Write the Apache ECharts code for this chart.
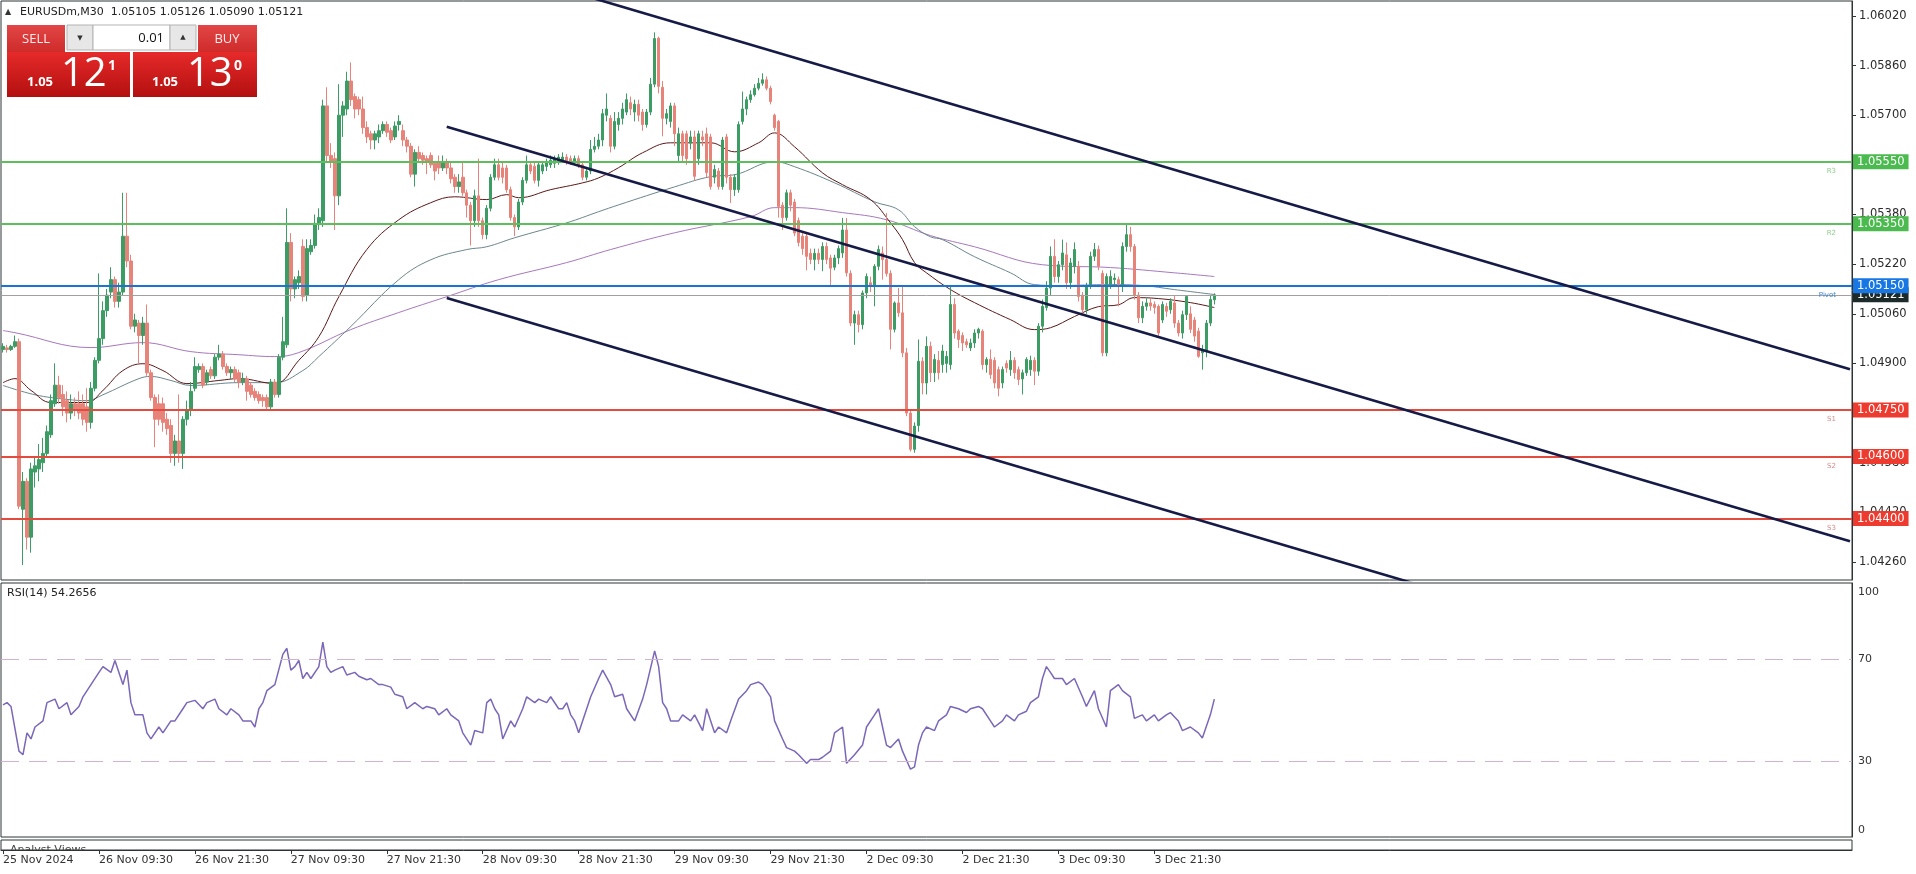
<!DOCTYPE html>
<html><head><meta charset="utf-8">
<script src="https://cdn.jsdelivr.net/npm/echarts@6/dist/echarts.min.js"></script>
<style>html,body{margin:0;padding:0;background:#fff;}#c{width:1916px;height:874px;}</style>
</head><body><div id="c"></div>
<script>
// ---------- DATA ----------
const tickLabels = ['25 Nov 2024','26 Nov 09:30','26 Nov 21:30','27 Nov 09:30','27 Nov 21:30','28 Nov 09:30','28 Nov 21:30','29 Nov 09:30','29 Nov 21:30','2 Dec 09:30','2 Dec 21:30','3 Dec 09:30','3 Dec 21:30'];
const barsPerTick = 24;
const slotCount = 463; // bar slots across the chart width (candles + empty right side)
const priceTicks = [1.04260,1.04420,1.04580,1.04740,1.04900,1.05060,1.05220,1.05380,1.05540,1.05700,1.05860,1.06020];
const rsiTicks = [0,30,70,100];
const rsiLevels = [70,30];
const quote = {symbol:'EURUSDm,M30', open:1.05105, high:1.05126, low:1.05090, close:1.05121};
const rsiLast = 54.2656;
const levelNames = ['R3','R2','Pivot','S1','S2','S3'];
const levelValues = [1.05550,1.05350,1.05150,1.04750,1.04600,1.04400];
const lastPrice = 1.05121;
const channelUpper = [[145,1.06087],[462,1.04881]];
const channelMid = [[111,1.05663],[462,1.04327]];
const channelLow = [[111,1.05111],[462,1.03776]];
// candles: [open, close, low, high]
const candles = [
[1.04945,1.04955,1.04935,1.04965],[1.04950,1.04945,1.04935,1.04960],[1.04945,1.04955,1.04940,1.04960],[1.04955,1.04970,1.04950,1.04990],
[1.04970,1.04440,1.04430,1.04980],[1.04430,1.04520,1.04250,1.04550],[1.04520,1.04340,1.04300,1.04530],[1.04340,1.04560,1.04290,1.04580],
[1.04550,1.04570,1.04500,1.04600],[1.04560,1.04590,1.04520,1.04640],[1.04580,1.04610,1.04550,1.04660],[1.04610,1.04680,1.04600,1.04700],
[1.04670,1.04780,1.04660,1.04800],[1.04770,1.04830,1.04760,1.04900],[1.04830,1.04790,1.04770,1.04860],[1.04800,1.04760,1.04730,1.04830],
[1.04780,1.04740,1.04710,1.04810],[1.04740,1.04770,1.04720,1.04800],[1.04770,1.04750,1.04730,1.04790],[1.04770,1.04740,1.04720,1.04810],
[1.04770,1.04720,1.04700,1.04800],[1.04760,1.04710,1.04680,1.04820],[1.04710,1.04820,1.04690,1.04840],[1.04820,1.04910,1.04810,1.04920],
[1.04910,1.04980,1.04900,1.05190],[1.04980,1.05070,1.04960,1.05100],[1.05070,1.05120,1.05050,1.05140],[1.05130,1.05170,1.05110,1.05210],
[1.05170,1.05100,1.05080,1.05180],[1.05100,1.05130,1.05080,1.05160],[1.05130,1.05310,1.05120,1.05450],[1.05310,1.05230,1.05210,1.05450],
[1.05230,1.05020,1.05010,1.05250],[1.05020,1.05040,1.05000,1.05060],[1.05030,1.04990,1.04900,1.05040],[1.04990,1.05030,1.04960,1.05050],
[1.05030,1.04870,1.04860,1.05090],[1.04870,1.04790,1.04780,1.04880],[1.04790,1.04720,1.04630,1.04800],[1.04770,1.04720,1.04700,1.04800],
[1.04770,1.04710,1.04680,1.04790],[1.04720,1.04690,1.04670,1.04740],[1.04700,1.04610,1.04580,1.04720],[1.04610,1.04650,1.04570,1.04670],
[1.04650,1.04610,1.04580,1.04800],[1.04610,1.04720,1.04560,1.04730],[1.04720,1.04750,1.04700,1.04780],[1.04750,1.04810,1.04730,1.04840],
[1.04820,1.04890,1.04810,1.04920],[1.04880,1.04890,1.04870,1.04900],[1.04890,1.04830,1.04820,1.04900],[1.04840,1.04870,1.04830,1.04880],
[1.04880,1.04860,1.04850,1.04890],[1.04860,1.04920,1.04850,1.04930],[1.04920,1.04930,1.04910,1.04960],[1.04930,1.04890,1.04880,1.04940],
[1.04890,1.04870,1.04860,1.04900],[1.04870,1.04880,1.04850,1.04890],[1.04880,1.04850,1.04840,1.04890],[1.04870,1.04840,1.04820,1.04880],
[1.04840,1.04850,1.04830,1.04870],[1.04850,1.04810,1.04780,1.04860],[1.04830,1.04800,1.04790,1.04840],[1.04810,1.04790,1.04780,1.04820],
[1.04800,1.04780,1.04770,1.04810],[1.04790,1.04780,1.04760,1.04800],[1.04790,1.04760,1.04750,1.04800],[1.04760,1.04840,1.04750,1.04850],
[1.04840,1.04800,1.04790,1.04850],[1.04800,1.04920,1.04790,1.04930],[1.04920,1.04970,1.04910,1.05050],[1.04960,1.05290,1.04950,1.05400],
[1.05290,1.05140,1.05100,1.05320],[1.05140,1.05170,1.05110,1.05180],[1.05160,1.05180,1.05140,1.05200],
[1.05277,1.05116,1.05100,1.05300],[1.05120,1.05270,1.05100,1.05300],[1.05260,1.05280,1.05250,1.05300],[1.05280,1.05350,1.05270,1.05380],
[1.05350,1.05370,1.05330,1.05400],[1.05360,1.05730,1.05340,1.05750],[1.05730,1.05570,1.05550,1.05790],[1.05570,1.05550,1.05530,1.05610],
[1.05560,1.05440,1.05330,1.05580],[1.05440,1.05700,1.05410,1.05800],[1.05700,1.05730,1.05630,1.05745],[1.05720,1.05810,1.05700,1.05840],
[1.05810,1.05750,1.05730,1.05870],[1.05760,1.05720,1.05690,1.05770],[1.05750,1.05720,1.05700,1.05760],[1.05720,1.05660,1.05640,1.05760],
[1.05660,1.05630,1.05610,1.05680],[1.05640,1.05620,1.05590,1.05650],[1.05620,1.05640,1.05590,1.05650],[1.05630,1.05650,1.05610,1.05670],
[1.05650,1.05670,1.05640,1.05680],[1.05670,1.05645,1.05630,1.05680],[1.05650,1.05620,1.05610,1.05660],[1.05630,1.05665,1.05620,1.05680],
[1.05670,1.05680,1.05650,1.05700],[1.05650,1.05620,1.05600,1.05670],[1.05620,1.05600,1.05580,1.05630],[1.05600,1.05510,1.05500,1.05610],
[1.05510,1.05580,1.05470,1.05590],[1.05580,1.05560,1.05550,1.05600],[1.05570,1.05555,1.05540,1.05580],[1.05560,1.05550,1.05510,1.05570],
[1.05570,1.05540,1.05530,1.05580],[1.05545,1.05520,1.05490,1.05550],[1.05550,1.05530,1.05510,1.05570],[1.05530,1.05550,1.05520,1.05570],
[1.05550,1.05530,1.05510,1.05560],[1.05530,1.05495,1.05480,1.05550],[1.05500,1.05470,1.05450,1.05510],[1.05470,1.05485,1.05450,1.05510],
[1.05500,1.05450,1.05440,1.05550],[1.05450,1.05410,1.05370,1.05460],[1.05410,1.05360,1.05280,1.05420],[1.05360,1.05440,1.05340,1.05460],
[1.05440,1.05360,1.05340,1.05560],[1.05360,1.05315,1.05300,1.05370],[1.05315,1.05400,1.05300,1.05410],[1.05400,1.05500,1.05390,1.05510],
[1.05500,1.05540,1.05490,1.05560],[1.05540,1.05500,1.05490,1.05560],[1.05530,1.05500,1.05480,1.05550],[1.05530,1.05460,1.05450,1.05540],
[1.05460,1.05370,1.05360,1.05470],[1.05370,1.05340,1.05310,1.05380],[1.05340,1.05420,1.05330,1.05430],[1.05420,1.05490,1.05410,1.05500],
[1.05490,1.05540,1.05480,1.05570],[1.05540,1.05520,1.05510,1.05550],[1.05535,1.05490,1.05480,1.05550],[1.05490,1.05540,1.05470,1.05550],
[1.05520,1.05540,1.05510,1.05550],[1.05535,1.05550,1.05520,1.05560],[1.05540,1.05555,1.05530,1.05570],[1.05545,1.05560,1.05530,1.05570],
[1.05550,1.05565,1.05540,1.05575],[1.05555,1.05565,1.05550,1.05580],[1.05565,1.05550,1.05540,1.05575],[1.05560,1.05550,1.05540,1.05570],
[1.05550,1.05560,1.05540,1.05570],[1.05560,1.05540,1.05530,1.05570],[1.05540,1.05500,1.05490,1.05550],[1.05500,1.05520,1.05490,1.05530],
[1.05520,1.05590,1.05510,1.05620],[1.05590,1.05600,1.05580,1.05630],[1.05600,1.05620,1.05590,1.05640],[1.05620,1.05705,1.05600,1.05720],
[1.05700,1.05720,1.05680,1.05770],[1.05690,1.05600,1.05580,1.05700],[1.05600,1.05680,1.05590,1.05710],[1.05670,1.05690,1.05650,1.05710],
[1.05690,1.05720,1.05670,1.05740],[1.05710,1.05750,1.05700,1.05770],[1.05740,1.05720,1.05700,1.05760],[1.05710,1.05735,1.05680,1.05750],
[1.05735,1.05700,1.05680,1.05750],[1.05710,1.05670,1.05650,1.05720],[1.05670,1.05710,1.05660,1.05720],[1.05710,1.05800,1.05700,1.05820],
[1.05800,1.05947,1.05790,1.05967],[1.05948,1.05793,1.05770,1.05953],[1.05790,1.05690,1.05632,1.05810],[1.05690,1.05705,1.05670,1.05720],
[1.05680,1.05730,1.05660,1.05740],[1.05730,1.05640,1.05600,1.05740],[1.05570,1.05640,1.05550,1.05660],[1.05640,1.05570,1.05550,1.05650],
[1.05640,1.05560,1.05540,1.05650],[1.05610,1.05630,1.05590,1.05650],[1.05630,1.05503,1.05490,1.05650],[1.05560,1.05640,1.05540,1.05650],
[1.05630,1.05620,1.05600,1.05650],[1.05640,1.05515,1.05500,1.05660],[1.05630,1.05470,1.05460,1.05640],[1.05500,1.05525,1.05480,1.05540],
[1.05520,1.05470,1.05460,1.05530],[1.05470,1.05620,1.05460,1.05630],[1.05630,1.05500,1.05480,1.05640],[1.05500,1.05460,1.05417,1.05510],
[1.05460,1.05500,1.05440,1.05510],[1.05460,1.05670,1.05450,1.05680],[1.05680,1.05720,1.05670,1.05776],[1.05720,1.05750,1.05700,1.05760],
[1.05750,1.05766,1.05740,1.05780],[1.05766,1.05787,1.05760,1.05800],[1.05787,1.05803,1.05780,1.05820],[1.05803,1.05814,1.05795,1.05835],
[1.05814,1.05787,1.05780,1.05825],[1.05787,1.05744,1.05735,1.05795],[1.05700,1.05660,1.05650,1.05705],[1.05680,1.05406,1.05370,1.05685],
[1.05410,1.05370,1.05330,1.05420],[1.05370,1.05450,1.05360,1.05460],[1.05450,1.05410,1.05390,1.05460],[1.05420,1.05320,1.05310,1.05430],
[1.05360,1.05290,1.05277,1.05370],[1.05310,1.05270,1.05250,1.05320],[1.05310,1.05245,1.05200,1.05320],[1.05255,1.05235,1.05220,1.05270],
[1.05235,1.05255,1.05200,1.05270],[1.05255,1.05235,1.05220,1.05270],[1.05235,1.05277,1.05197,1.05290],[1.05277,1.05235,1.05220,1.05290],
[1.05240,1.05207,1.05149,1.05250],[1.05210,1.05240,1.05200,1.05250],[1.05240,1.05270,1.05220,1.05280],[1.05256,1.05330,1.05240,1.05369],
[1.05330,1.05192,1.05180,1.05369],[1.05190,1.05030,1.05020,1.05200],[1.05030,1.05057,1.04960,1.05070],[1.05057,1.05025,1.05000,1.05070],
[1.05025,1.05127,1.05010,1.05135],[1.05127,1.05180,1.05110,1.05190],[1.05160,1.05150,1.05130,1.05180],[1.05149,1.05213,1.05084,1.05220],
[1.05213,1.05267,1.05200,1.05280],[1.05256,1.05235,1.05170,1.05277],[1.05235,1.05190,1.05180,1.05385],[1.05190,1.05010,1.04945,1.05200],
[1.05010,1.05095,1.05000,1.05100],[1.05095,1.05063,1.05050,1.05143],[1.05063,1.04934,1.04920,1.05150],[1.04934,1.04740,1.04730,1.04950],
[1.04740,1.04623,1.04616,1.04750],[1.04623,1.04698,1.04612,1.04710],[1.04700,1.04907,1.04680,1.04977],[1.04907,1.04837,1.04800,1.04920],
[1.04837,1.04955,1.04800,1.04987],[1.04955,1.04870,1.04840,1.04970],[1.04870,1.04913,1.04840,1.04930],[1.04910,1.04870,1.04848,1.04940],
[1.04896,1.04940,1.04870,1.04960],[1.04900,1.04923,1.04870,1.04940],[1.04896,1.05090,1.04880,1.05150],[1.05090,1.04998,1.04980,1.05110],
[1.05004,1.04977,1.04950,1.05010],[1.04990,1.04966,1.04940,1.05000],[1.04970,1.04960,1.04950,1.04980],[1.04950,1.04966,1.04940,1.04980],
[1.04966,1.04998,1.04950,1.05010],[1.04998,1.05010,1.04980,1.05015],[1.05004,1.04896,1.04880,1.05010],[1.04896,1.04913,1.04870,1.04920],
[1.04913,1.04864,1.04850,1.04945],[1.04910,1.04837,1.04820,1.04920],[1.04880,1.04820,1.04794,1.04890],[1.04837,1.04880,1.04820,1.04890],
[1.04900,1.04885,1.04870,1.04910],[1.04880,1.04910,1.04860,1.04940],[1.04910,1.04870,1.04850,1.04920],[1.04880,1.04848,1.04830,1.04890],
[1.04850,1.04870,1.04800,1.04880],[1.04870,1.04913,1.04860,1.04920],[1.04880,1.04910,1.04860,1.04925],[1.04910,1.04875,1.04830,1.04920],
[1.04875,1.05020,1.04860,1.05030],[1.05020,1.05084,1.05000,1.05106],[1.05080,1.05143,1.05070,1.05165],[1.05143,1.05245,1.05120,1.05277],
[1.05245,1.05180,1.05160,1.05300],[1.05180,1.05218,1.05160,1.05230],[1.05218,1.05256,1.05200,1.05299],[1.05250,1.05160,1.05140,1.05290],
[1.05160,1.05224,1.05140,1.05240],[1.05213,1.05267,1.05190,1.05290],[1.05213,1.05116,1.05100,1.05230],[1.05120,1.05073,1.05060,1.05130],
[1.05073,1.05149,1.05060,1.05160],[1.05150,1.05245,1.05140,1.05260],[1.05245,1.05267,1.05230,1.05288],[1.05267,1.05213,1.05200,1.05280],
[1.05190,1.04934,1.04923,1.05200],[1.04934,1.05180,1.04923,1.05190],[1.05155,1.05180,1.05140,1.05200],[1.05170,1.05175,1.05150,1.05190],
[1.05170,1.05150,1.05084,1.05180],[1.05150,1.05277,1.05130,1.05290],[1.05277,1.05315,1.05260,1.05352],[1.05315,1.05277,1.05260,1.05340],
[1.05277,1.05120,1.05106,1.05285],[1.05120,1.05047,1.05030,1.05130],[1.05047,1.05084,1.05030,1.05100],[1.05084,1.05095,1.05070,1.05110],
[1.05095,1.05085,1.05070,1.05110],[1.05090,1.05080,1.05060,1.05100],[1.05084,1.04998,1.04987,1.05090],[1.05040,1.05090,1.05030,1.05100],
[1.05084,1.05068,1.05050,1.05095],[1.05073,1.05100,1.05060,1.05110],[1.05095,1.05030,1.05015,1.05120],[1.05030,1.04998,1.04987,1.05040],
[1.04998,1.05057,1.04980,1.05070],[1.05057,1.05116,1.05040,1.05120],[1.05060,1.05010,1.04998,1.05084],[1.05040,1.04988,1.04970,1.05050],
[1.05004,1.04923,1.04918,1.05015],[1.04934,1.04945,1.04880,1.04960],[1.04940,1.05030,1.04920,1.05040],[1.05030,1.05106,1.05020,1.05120],
[1.05105,1.05121,1.05090,1.05126]
];
// moving averages read at sample bars: [bar, price]
const maFast = [[0,1.04838],[3,1.04851],[7,1.04813],[12,1.04774],[21,1.04774],[25,1.04813],[30,1.04877],[35,1.04899],[40,1.04877],[46,1.04835],[54,1.04845],[59,1.04851],[68,1.04835],[74,1.04910],[79,1.04986],[84,1.05115],[91,1.05267],[99,1.05363],[107,1.05418],[113,1.05437],[121,1.05428],[126,1.05444],[129,1.05434],[137,1.05460],[145,1.05482],[149,1.05498],[154,1.05531],[160,1.05579],[167,1.05611],[177,1.05611],[183,1.05582],[189,1.05611],[193,1.05643],[198,1.05598],[205,1.05514],[210,1.05476],[217,1.05428],[222,1.05353],[225,1.05299],[228,1.05225],[231,1.05192],[237,1.05138],[243,1.05096],[252,1.05041],[258,1.05009],[262,1.05015],[268,1.05051],[274,1.05083],[279,1.05089],[283,1.05112],[289,1.05109],[297,1.05096],[303,1.05080]];
const maMid = [[0,1.04829],[8,1.04799],[16,1.04784],[21,1.04780],[25,1.04799],[34,1.04851],[37,1.04858],[42,1.04845],[47,1.04829],[59,1.04838],[68,1.04838],[75,1.04877],[79,1.04922],[87,1.05019],[99,1.05170],[107,1.05234],[116,1.05267],[121,1.05276],[128,1.05305],[141,1.05353],[149,1.05389],[154,1.05411],[168,1.05469],[177,1.05502],[183,1.05508],[193,1.05550],[198,1.05534],[208,1.05482],[218,1.05421],[224,1.05395],[228,1.05341],[232,1.05308],[235,1.05299],[243,1.05244],[252,1.05192],[258,1.05154],[264,1.05151],[277,1.05154],[285,1.05151],[293,1.05138],[303,1.05122]];
const maSlow = [[0,1.05006],[3,1.04999],[22,1.04951],[35,1.04967],[47,1.04938],[59,1.04928],[68,1.04922],[74,1.04935],[87,1.05009],[99,1.05064],[111,1.05115],[124,1.05170],[141,1.05225],[152,1.05267],[168,1.05321],[187,1.05373],[193,1.05402],[198,1.05402],[210,1.05386],[221,1.05363],[232,1.05312],[243,1.05276],[260,1.05218],[277,1.05209],[293,1.05192],[303,1.05180]];
// RSI(14) read at sample bars: [bar, value]
const rsi = [[0,52.0],[1,52.9],[2,51.4],[4,33.8],[5,32.4],[6,41.0],[7,38.6],[8,43.3],[10,45.7],[11,52.9],[13,54.3],[14,50.5],[16,52.9],[17,48.1],[19,51.4],[20,55.2],[22,60.0],[24,64.8],[25,67.1],[27,64.8],[28,69.5],[30,60.0],[31,65.7],[32,52.9],[33,48.1],[35,48.1],[36,41.0],[37,38.6],[39,43.3],[40,41.0],[42,45.7],[43,45.7],[45,50.5],[46,52.9],[48,53.8],[50,50.5],[51,52.9],[53,54.3],[54,50.5],[56,48.1],[57,50.5],[59,48.1],[60,45.7],[62,45.7],[63,43.3],[64,50.5],[65,52.9],[66,57.6],[68,60.0],[70,71.9],[71,74.3],[72,65.7],[73,67.1],[74,69.5],[75,62.4],[76,64.8],[77,62.4],[79,67.1],[80,76.7],[81,67.1],[82,64.8],[83,65.7],[85,67.1],[86,63.8],[88,64.8],[89,63.3],[91,61.9],[92,62.4],[94,60.0],[95,60.0],[97,59.0],[98,56.2],[100,55.2],[101,50.5],[103,52.9],[105,50.5],[106,51.4],[108,50.5],[109,48.1],[111,50.5],[112,48.1],[114,45.7],[115,41.0],[117,36.2],[118,41.9],[120,41.0],[121,52.9],[122,54.3],[123,50.5],[124,48.1],[125,38.6],[127,45.7],[128,43.3],[130,50.5],[131,55.2],[133,52.9],[134,54.3],[136,52.9],[137,55.2],[139,50.5],[140,50.5],[141,52.9],[142,48.1],[143,45.7],[144,41.0],[146,50.5],[147,55.2],[149,62.4],[150,65.7],[152,60.0],[153,55.2],[155,56.2],[156,50.5],[158,45.7],[160,54.3],[161,60.0],[163,73.3],[164,67.1],[165,52.9],[166,50.5],[167,45.7],[169,45.7],[170,48.1],[172,45.7],[173,48.1],[175,41.9],[176,50.5],[178,41.0],[179,43.3],[181,41.0],[182,45.7],[184,54.3],[186,57.6],[187,60.0],[189,61.0],[190,60.0],[192,55.2],[193,45.7],[195,38.6],[196,35.2],[198,33.8],[199,32.4],[201,29.0],[202,30.5],[204,30.5],[205,31.4],[207,33.8],[208,41.0],[210,43.3],[211,29.0],[213,32.4],[215,36.2],[216,43.3],[218,48.1],[219,50.5],[221,36.2],[222,35.2],[224,38.6],[225,33.8],[227,26.7],[228,27.6],[229,36.2],[230,41.0],[231,43.3],[233,41.9],[234,45.7],[236,48.1],[237,51.4],[239,50.5],[241,49.0],[242,50.5],[244,51.4],[245,50.5],[247,45.7],[248,43.3],[250,45.7],[251,48.1],[253,45.7],[254,48.1],[256,49.5],[257,52.9],[259,55.2],[260,62.4],[261,67.1],[262,64.8],[263,62.4],[265,62.4],[266,60.0],[268,62.4],[270,55.2],[271,51.4],[273,57.6],[274,50.5],[276,43.3],[277,57.6],[279,60.0],[280,57.6],[282,55.2],[283,46.7],[285,48.1],[286,45.7],[288,48.1],[289,45.7],[291,48.1],[292,49.0],[294,45.7],[295,41.9],[297,43.3],[299,41.0],[300,39.0],[302,48.1],[303,54.27]];

// ---------- STYLE ----------
const FONT = '"DejaVu Sans", sans-serif';
const UP = '#3c9d64', DOWN = '#e8837a';
const levelLine = ['#5cbf5c','#5cbf5c','#1a73d9','#e24b3d','#e24b3d','#e24b3d'];
const levelTag = ['#4cbb4f','#4cbb4f','#1877e2','#ee3b2f','#ee3b2f','#ee3b2f'];
const levelNameColor = ['#8ccf8c','#8ccf8c','#3d86d8','#d98a8a','#d98a8a','#d98a8a'];

const categories = Array.from({length: slotCount}, (_, i) => String(i));
const isTick = i => i % barsPerTick === 0 && i / barsPerTick < tickLabels.length;

const tagLabel = (val, bg) => ({
  show: true, position: 'end', distance: 1,
  formatter: () => val.toFixed(5),
  backgroundColor: bg, color: '#fff', fontFamily: FONT, fontSize: 11.5,
  padding: [2, 4, 1, 4]
});

const mlData = [];
mlData.push({yAxis: lastPrice, lineStyle: {color: '#a0a0a0', width: 1, type: 'solid'}, label: tagLabel(lastPrice, '#1c2a2a')});
levelValues.forEach((v, k) => {
  mlData.push({yAxis: v, lineStyle: {color: levelLine[k], width: 2, type: 'solid'}, label: tagLabel(v, levelTag[k])});
});
const nameData = levelValues.map((v, k) => ({yAxis: v,
  lineStyle: {color: 'rgba(0,0,0,0)', width: 0},
  label: {show: true, position: 'insideEndBottom', distance: 4, formatter: levelNames[k],
    color: levelNameColor[k], fontFamily: FONT, fontSize: 7, padding: [2, 12, 0, 0]}}));

const chart = echarts.init(document.getElementById('c'), null, {renderer: 'canvas'});
const redGrad = (a, b) => new echarts.graphic.LinearGradient(0, 0, 0, 1, [{offset: 0, color: a}, {offset: 1, color: b}]);

const option = {
  animation: false,
  backgroundColor: '#ffffff',
  grid: [
    {left: 1, top: 1, width: 1851, height: 579, show: true, borderColor: '#2e3436', borderWidth: 1},
    {left: 1, top: 583, width: 1851, height: 254, show: true, borderColor: '#2e3436', borderWidth: 1},
    {left: 1, top: 840, width: 1851, height: 10, show: true, borderColor: '#2e3436', borderWidth: 1}
  ],
  xAxis: [0, 1, 2].map(g => ({
    type: 'category', gridIndex: g, data: categories, boundaryGap: true, z: 10,
    axisLine: {show: g === 2, lineStyle: {color: '#2e3436', width: 1}},
    axisTick: {show: g === 2, alignWithLabel: true, length: 4, interval: (i) => isTick(i), lineStyle: {color: '#2e3436'}},
    axisLabel: {show: g === 2, interval: (i) => isTick(i), formatter: (v, i) => tickLabels[i / barsPerTick],
      align: 'left', margin: 5, color: '#333', fontFamily: FONT, fontSize: 11},
    splitLine: {show: false}
  })),
  yAxis: [
    {type: 'value', gridIndex: 0, position: 'right', min: 1.04202, max: 1.06068, scale: true,
      axisLine: {show: true, lineStyle: {color: '#2e3436'}},
      axisTick: {show: true, length: 4, customValues: priceTicks, lineStyle: {color: '#2e3436'}},
      axisLabel: {customValues: priceTicks, formatter: v => v.toFixed(5), color: '#2b2b2b', fontFamily: FONT, fontSize: 11.5, margin: 7},
      splitLine: {show: false}},
    {type: 'value', gridIndex: 1, position: 'right', min: 0, max: 100,
      axisLine: {show: true, lineStyle: {color: '#2e3436'}},
      axisTick: {show: false},
      axisLabel: {customValues: rsiTicks, margin: 6, color: '#333', fontFamily: FONT, fontSize: 11,
        formatter: v => v === 100 ? '{t|100}' : (v === 0 ? '{b|0}' : '{m|' + v + '}'),
        rich: {t: {padding: [18, 0, 0, 0], fontFamily: FONT, fontSize: 11, color: '#333'},
               b: {padding: [0, 0, 14, 0], fontFamily: FONT, fontSize: 11, color: '#333'},
               m: {fontFamily: FONT, fontSize: 11, color: '#333'}}},
      splitLine: {show: false}},
    {type: 'value', gridIndex: 2, min: 0, max: 1, show: false}
  ],
  series: [
    {type: 'line', name: 'MA slow', xAxisIndex: 0, yAxisIndex: 0, data: maSlow, smooth: 0.4, showSymbol: false,
      lineStyle: {color: '#a678bf', width: 1}, z: 2},
    {type: 'line', name: 'MA mid', xAxisIndex: 0, yAxisIndex: 0, data: maMid, smooth: 0.4, showSymbol: false,
      lineStyle: {color: '#6b868c', width: 1}, z: 2},
    {type: 'line', name: 'MA fast', xAxisIndex: 0, yAxisIndex: 0, data: maFast, smooth: 0.4, showSymbol: false,
      lineStyle: {color: '#5e1818', width: 1}, z: 2},
    {type: 'candlestick', name: 'EURUSDm', xAxisIndex: 0, yAxisIndex: 0, data: candles, barWidth: 3,
      itemStyle: {color: UP, color0: DOWN, borderColor: UP, borderColor0: DOWN, borderWidth: 1}, z: 3},
    // price levels (pivot points) + current price, drawn on the price scale
    {type: 'line', name: 'levels', xAxisIndex: 0, yAxisIndex: 0, data: [[0, lastPrice]], showSymbol: false,
      lineStyle: {opacity: 0}, z: 4,
      markLine: {symbol: ['none', 'none'], silent: true, animation: false, precision: 5, data: mlData}},
    {type: 'line', name: 'level names', xAxisIndex: 0, yAxisIndex: 0, data: [[0, lastPrice]], showSymbol: false,
      lineStyle: {opacity: 0}, z: 4,
      markLine: {symbol: ['none', 'none'], silent: true, animation: false, precision: 5, data: nameData}},
    ...[channelUpper, channelMid, channelLow].map(d => ({
      type: 'line', xAxisIndex: 0, yAxisIndex: 0, data: d, showSymbol: false, clip: true,
      lineStyle: {color: '#151a46', width: 2.6}, z: 5})),
    {type: 'line', name: 'RSI(14)', xAxisIndex: 1, yAxisIndex: 1, data: rsi, showSymbol: false,
      lineStyle: {color: '#7b66b8', width: 1.5},
      markLine: {symbol: ['none', 'none'], silent: true, label: {show: false},
        lineStyle: {color: '#cfb3cf', type: [18, 10], width: 1},
        data: rsiLevels.map(v => ({yAxis: v}))}}
  ],
  graphic: [
    {type: 'text', x: 5, y: 12, style: {text: '▲', font: '8px ' + FONT, fill: '#333', verticalAlign: 'middle'}},
    {type: 'text', x: 20, y: 12, style: {text: quote.symbol + '  ' + [quote.open, quote.high, quote.low, quote.close].map(v => v.toFixed(5)).join(' '),
      font: '11px ' + FONT, fill: '#222', verticalAlign: 'middle'}},
    {type: 'text', x: 7, y: 593, style: {text: 'RSI(14) ' + rsiLast.toFixed(4), font: '11px ' + FONT, fill: '#222', verticalAlign: 'middle'}},
    // one-click trading panel
    {type: 'rect', shape: {x: 7, y: 25, width: 58, height: 27}, style: {fill: redGrad('#e24646', '#cf2b2b')}},
    {type: 'text', x: 36, y: 39, style: {text: 'SELL', font: '13px "Open Sans", sans-serif', fill: '#ffecec', align: 'center', verticalAlign: 'middle'}},
    {type: 'rect', shape: {x: 198, y: 25, width: 59, height: 27}, style: {fill: redGrad('#e24646', '#cf2b2b')}},
    {type: 'text', x: 227, y: 39, style: {text: 'BUY', font: '13px "Open Sans", sans-serif', fill: '#ffecec', align: 'center', verticalAlign: 'middle'}},
    {type: 'rect', shape: {x: 67, y: 25, width: 26, height: 25}, style: {fill: '#e7e7e7', stroke: '#b3b3b3', lineWidth: 1}},
    {type: 'text', x: 80, y: 38, style: {text: '▼', font: '7px ' + FONT, fill: '#333', align: 'center', verticalAlign: 'middle'}},
    {type: 'rect', shape: {x: 93, y: 25, width: 77, height: 25}, style: {fill: '#ffffff', stroke: '#b3b3b3', lineWidth: 1}},
    {type: 'text', x: 164, y: 38, style: {text: '0.01', font: '13px "Open Sans", sans-serif', fill: '#111', align: 'right', verticalAlign: 'middle'}},
    {type: 'rect', shape: {x: 170, y: 25, width: 26, height: 25}, style: {fill: '#e7e7e7', stroke: '#b3b3b3', lineWidth: 1}},
    {type: 'text', x: 183, y: 37, style: {text: '▲', font: '7px ' + FONT, fill: '#333', align: 'center', verticalAlign: 'middle'}},
    {type: 'rect', shape: {x: 7, y: 52, width: 123, height: 45}, style: {fill: redGrad('#e62a2a', '#b30f0f')}},
    {type: 'rect', shape: {x: 133, y: 52, width: 124, height: 45}, style: {fill: redGrad('#e62a2a', '#b30f0f')}},
    {type: 'text', x: 27, y: 82, style: {text: '1.05', font: 'bold 13px "Open Sans", sans-serif', fill: '#fff', verticalAlign: 'middle'}},
    {type: 'text', x: 61, y: 75, style: {text: '12', font: '40px "Open Sans", sans-serif', fill: '#fff', verticalAlign: 'middle'}},
    {type: 'text', x: 108, y: 66, style: {text: '1', font: 'bold 14px "Open Sans", sans-serif', fill: '#fff', verticalAlign: 'middle'}},
    {type: 'text', x: 152, y: 82, style: {text: '1.05', font: 'bold 13px "Open Sans", sans-serif', fill: '#fff', verticalAlign: 'middle'}},
    {type: 'text', x: 187, y: 75, style: {text: '13', font: '40px "Open Sans", sans-serif', fill: '#fff', verticalAlign: 'middle'}},
    {type: 'text', x: 234, y: 66, style: {text: '0', font: 'bold 14px "Open Sans", sans-serif', fill: '#fff', verticalAlign: 'middle'}},
    // analyst views panel caption (clipped by panel edge)
    {type: 'text', x: 10, y: 850, z: 1, style: {text: 'Analyst Views', font: '11px ' + FONT, fill: '#444', verticalAlign: 'middle'}},
    {type: 'rect', z: 2, shape: {x: 0, y: 851, width: 1916, height: 23}, style: {fill: '#ffffff'}}
  ]
};
chart.setOption(option);
</script>
</body></html>
